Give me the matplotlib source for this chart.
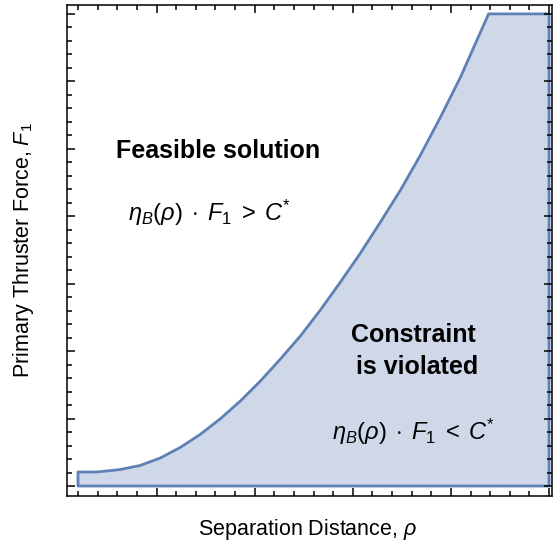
import matplotlib.pyplot as plt
from matplotlib.ticker import MultipleLocator, FixedLocator

plt.rcParams['font.family'] = ['Liberation Sans', 'DejaVu Sans']
plt.rcParams['mathtext.fontset'] = 'custom'
plt.rcParams['mathtext.rm'] = 'Liberation Sans'
plt.rcParams['mathtext.it'] = 'Liberation Sans:italic'
plt.rcParams['mathtext.bf'] = 'Liberation Sans:bold'

# boundary of the violated region (separation distance vs thruster force)
rho = [0.0, 0.0, 0.97, 2.14, 3.16, 4.18, 5.20, 6.22, 7.24, 8.27, 9.29, 10.31,
       11.33, 12.35, 13.37, 14.39, 15.41, 16.43, 17.45, 18.47, 19.49, 20.51,
       20.92, 24.0, 24.0]
force = [0.0, 1.04, 1.04, 1.22, 1.52, 2.07, 2.85, 3.82, 4.97, 6.30, 7.78, 9.41,
         11.12, 13.05, 15.12, 17.27, 19.57, 21.94, 24.54, 27.35, 30.32, 33.66,
         35.0, 35.0, 0.0]

edge = (0.368, 0.507, 0.710)

fig = plt.figure(figsize=(5.53, 5.48), dpi=100)
ax = fig.add_axes([67/553, 52/548, 485/553, 491/548])

ax.fill(rho, force, facecolor=edge, alpha=0.3, edgecolor='none')
ax.fill(rho, force, facecolor='none', edgecolor=edge, linewidth=2.0, joinstyle='round')

ax.set_xlim(-0.56, 24.15)
ax.set_ylim(-0.74, 35.66)

ax.xaxis.set_major_locator(FixedLocator([4, 9, 14, 19, 24]))
ax.xaxis.set_minor_locator(MultipleLocator(1))
ax.yaxis.set_major_locator(MultipleLocator(5))
ax.yaxis.set_minor_locator(MultipleLocator(1))
ax.tick_params(which='both', direction='in', top=True, right=True,
               labelbottom=False, labelleft=False, width=1.1, color='black')
ax.tick_params(which='major', length=6)
ax.tick_params(which='minor', length=3.5)
for s in ax.spines.values():
    s.set_linewidth(1.1)

ax.set_xlabel(r'Separation Distance, $\rho$', fontsize=15.5, va='center')
ax.set_ylabel(r'Primary Thruster Force, $F_1$', fontsize=15.5, va='center')
ax.xaxis.set_label_coords(0.497, -0.069)
ax.yaxis.set_label_coords(-0.089, 0.50)

ax.text(7.15, 24.83, 'Feasible solution', fontsize=18, fontweight='bold',
        ha='center', va='center')
ax.text(6.68, 20.24, r'$\eta_B(\rho)\;\cdot\;F_1\;>\;C^{*}$', fontsize=17,
        ha='center', va='center')
ax.text(17.1, 10.0, 'Constraint\n is violated', fontsize=18, fontweight='bold',
        ha='center', va='center', linespacing=1.45)
ax.text(17.1, 4.0, r'$\eta_B(\rho)\;\cdot\;F_1\;<\;C^{*}$', fontsize=17,
        ha='center', va='center')

fig.savefig('out.png', dpi=100)
